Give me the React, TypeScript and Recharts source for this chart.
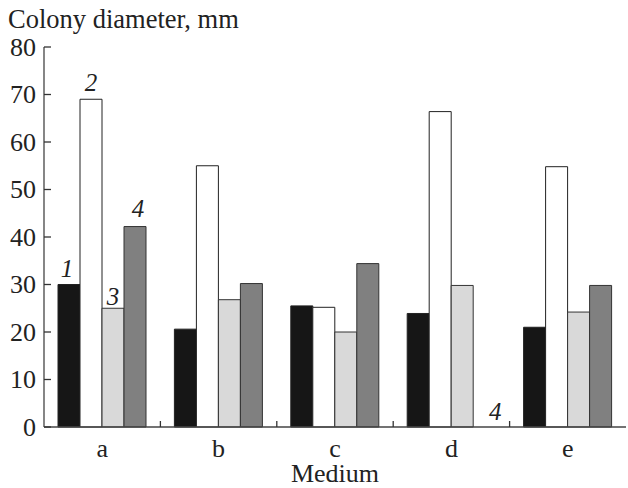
import React from "react";
import { BarChart, Bar, XAxis, YAxis, LabelList } from "recharts";

const media = ["a", "b", "c", "d", "e"];
const series1 = [30, 20.6, 25.5, 23.9, 21];
const series2 = [69, 55, 25.2, 66.4, 54.8];
const series3 = [25, 26.8, 20, 29.8, 24.2];
const series4 = [42.2, 30.2, 34.4, 0, 29.8];
const yTicks = [0, 10, 20, 30, 40, 50, 60, 70, 80];

// curve numbers written over the bars of medium "a"
const labels1 = ["1", "", "", "", ""];
const labels2 = ["2", "", "", "", ""];
const labels3 = ["3", "", "", "", ""];
const labels4 = ["4", "", "", "", ""];
// "4" marking the missing bar of medium "d" (sits on the baseline)
const missing4 = ["", "", "", "4", ""];

const data = media.map((m, i) => ({
  medium: m,
  s1: series1[i],
  s2: series2[i],
  s3: series3[i],
  s4: series4[i],
  l1: labels1[i],
  l2: labels2[i],
  l3: labels3[i],
  l4: labels4[i],
  m4: missing4[i],
}));

const W = 628;
const H = 488;
const LEFT = 44;
const RIGHT = 2;
const BAND = (W - LEFT - RIGHT) / media.length;
const FONT = "'Liberation Serif', 'Times New Roman', serif";
const FS = 26;

const YTick = (props: any) => {
  const { x, y, payload } = props;
  return (
    <g>
      <line x1={x} x2={x + 7} y1={y} y2={y} stroke="#333" strokeWidth={1.3} />
      <text
        x={x - 8}
        y={y}
        dy={8.5}
        textAnchor="end"
        fontFamily={FONT}
        fontSize={FS}
        fill="#222"
      >
        {payload.value}
      </text>
    </g>
  );
};

const XTick = (props: any) => {
  const { x, y, payload, index } = props;
  return (
    <g>
      {index < media.length - 1 && (
        <line
          x1={x + BAND / 2}
          x2={x + BAND / 2}
          y1={y}
          y2={y - 6}
          stroke="#333"
          strokeWidth={1.3}
        />
      )}
      <text
        x={x}
        y={y + 30}
        textAnchor="middle"
        fontFamily={FONT}
        fontSize={FS}
        fill="#222"
      >
        {payload.value}
      </text>
    </g>
  );
};

const numText = (x: number, y: number, t: string) => (
  <text
    x={x}
    y={y}
    textAnchor="middle"
    fontFamily={FONT}
    fontStyle="italic"
    fontSize={25}
    fill="#222"
  >
    {t}
  </text>
);

const topLabel = (dx: number, gap: number) => (props: any) => {
  const { x, y, width, value } = props;
  if (!value) return null;
  return numText(Number(x) + Number(width) / 2 + dx, Number(y) - gap, String(value));
};

// placed one bar to the right of series 3, on the baseline
const missingLabel = (props: any) => {
  const { x, y, width, height, value } = props;
  if (!value) return null;
  return numText(
    Number(x) + Number(width) * 1.5 + 11,
    Number(y) + Number(height) - 7,
    String(value)
  );
};

export default function App() {
  return (
    <div style={{ position: "absolute", left: 0, top: 0, width: W, height: H, background: "#fff" }}>
      <BarChart
        width={W}
        height={H}
        data={data}
        margin={{ top: 47, right: RIGHT, bottom: 0, left: 0 }}
        barCategoryGap={14}
        barGap={0}
      >
        <text x={8} y={28} fontFamily={FONT} fontSize={FS + 0.5} fill="#222">
          Colony diameter, mm
        </text>
        <XAxis
          dataKey="medium"
          height={61}
          tickSize={0}
          tickMargin={0}
          tick={<XTick />}
          axisLine={{ stroke: "#444", strokeWidth: 1.3 }}
          tickLine={false}
          label={{
            value: "Medium",
            position: "insideBottom",
            offset: 6,
            fontFamily: FONT,
            fontSize: FS,
            fill: "#222",
          }}
        />
        <YAxis
          width={LEFT}
          domain={[0, 80]}
          ticks={yTicks}
          interval={0}
          tickSize={0}
          tickMargin={0}
          tick={<YTick />}
          tickLine={false}
          axisLine={{ stroke: "#444", strokeWidth: 1.3 }}
        />
        <Bar dataKey="s1" fill="#161616" stroke="#222" isAnimationActive={false}>
          <LabelList dataKey="l1" content={topLabel(-2, 8)} />
        </Bar>
        <Bar dataKey="s2" fill="#ffffff" stroke="#222" isAnimationActive={false}>
          <LabelList dataKey="l2" content={topLabel(0, 8)} />
        </Bar>
        <Bar dataKey="s3" fill="#d9d9d9" stroke="#333" isAnimationActive={false}>
          <LabelList dataKey="l3" content={topLabel(0, 3)} />
          <LabelList dataKey="m4" content={missingLabel} />
        </Bar>
        <Bar dataKey="s4" fill="#808080" stroke="#333" isAnimationActive={false}>
          <LabelList dataKey="l4" content={topLabel(3, 10)} />
        </Bar>
      </BarChart>
    </div>
  );
}
